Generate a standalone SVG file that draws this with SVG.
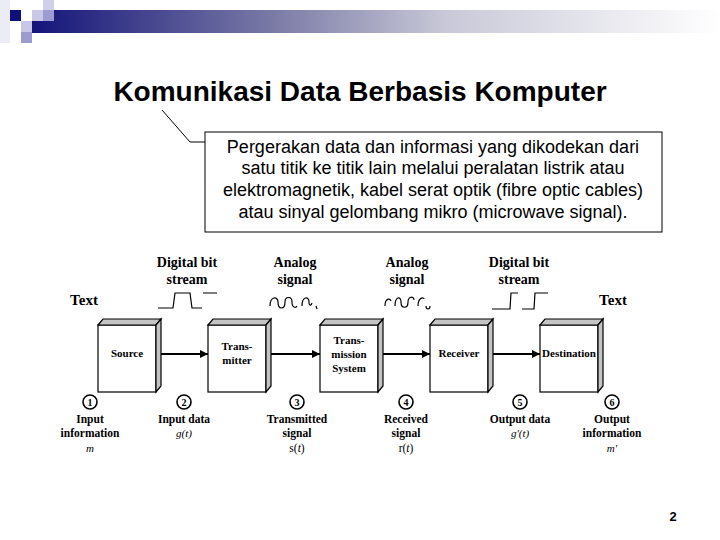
<svg xmlns="http://www.w3.org/2000/svg" width="720" height="540" viewBox="0 0 720 540">
<defs>
<linearGradient id="bar" x1="0" y1="0" x2="1" y2="0">
<stop offset="0" stop-color="#14147a"/>
<stop offset="0.35" stop-color="#7a7aa6"/>
<stop offset="0.6" stop-color="#c8c8d8"/>
<stop offset="1" stop-color="#ffffff"/>
</linearGradient>
<marker id="ah" viewBox="0 0 10 10" refX="10" refY="5" markerWidth="8" markerHeight="8" markerUnits="userSpaceOnUse" orient="auto">
<path d="M0,0 L10,5 L0,10 z" fill="#000"/>
</marker>
<g id="box3d">
<rect x="0" y="0" width="58" height="67" fill="#fff" stroke="#000" stroke-width="1.2"/>
<path d="M0,0 L5,-6 L63,-6 L58,0 z" fill="#c4c4c4" stroke="#000" stroke-width="1.2"/>
<path d="M58,0 L63,-6 L63,61 L58,67 z" fill="#c4c4c4" stroke="#000" stroke-width="1.2"/>
</g>
</defs>
<style>
.title{font-family:"Liberation Sans",Arial,sans-serif;font-weight:bold;font-size:28px;fill:#000}
.desc{font-family:"Liberation Sans",Arial,sans-serif;font-size:18px;fill:#000}
.lab{font-family:"Liberation Serif","Times New Roman",serif;font-weight:bold;font-size:14px;fill:#000}
.big{font-family:"Liberation Serif","Times New Roman",serif;font-weight:bold;font-size:15px;fill:#000}
.bx{font-family:"Liberation Serif","Times New Roman",serif;font-weight:bold;font-size:11px;fill:#000}
.sub{font-family:"Liberation Serif","Times New Roman",serif;font-weight:bold;font-size:11.5px;fill:#000}
.reg{font-family:"Liberation Serif","Times New Roman",serif;font-weight:normal;font-size:11.5px;fill:#000}
.it{font-family:"Liberation Serif","Times New Roman",serif;font-style:italic;font-size:11px;fill:#000}
.num{font-family:"Liberation Serif","Times New Roman",serif;font-weight:bold;font-size:10px;fill:#000}
.wave{fill:none;stroke:#000;stroke-width:1.2}
.circ{fill:#fff;stroke:#000;stroke-width:1.6}
</style>
<g id="header">
<rect x="0" y="0" width="10" height="43" fill="#ececf6"/>
<rect x="32" y="10" width="688" height="23" fill="url(#bar)"/>
<rect x="10" y="10" width="11" height="11" fill="#10107a"/>
<rect x="32" y="10" width="11" height="11" fill="#c8c8e6"/>
<rect x="43" y="10" width="11" height="11" fill="#9c9cd0"/>
<rect x="43" y="0" width="11" height="10" fill="#d0d0ea"/>
<rect x="21" y="21" width="11" height="11" fill="#c8c8e6"/>
<rect x="21" y="32" width="11" height="11" fill="#9c9cd0"/>
</g>
<g id="title"><text class="title" x="360" y="101" text-anchor="middle">Komunikasi Data Berbasis Komputer</text></g>
<g id="callout">
<path d="M162,110 L190,142 L205,142" fill="none" stroke="#000" stroke-width="1"/>
<rect x="205" y="132" width="457" height="100" fill="#fff" stroke="#000" stroke-width="1"/>
<text class="desc" x="433" y="153" text-anchor="middle">Pergerakan data dan informasi yang dikodekan dari</text>
<text class="desc" x="433" y="174" text-anchor="middle">satu titik ke titik lain melalui peralatan listrik atau</text>
<text class="desc" x="433" y="196" text-anchor="middle">elektromagnetik, kabel serat optik (fibre optic cables)</text>
<text class="desc" x="433" y="218" text-anchor="middle">atau sinyal gelombang mikro (microwave signal).</text>
</g>
<g id="signals">
<text class="big" x="84" y="305" text-anchor="middle">Text</text>
<text class="big" x="613" y="305" text-anchor="middle">Text</text>
<text class="lab" x="187" y="267" text-anchor="middle">Digital bit</text>
<text class="lab" x="187" y="284" text-anchor="middle">stream</text>
<text class="lab" x="295" y="267" text-anchor="middle">Analog</text>
<text class="lab" x="295" y="284" text-anchor="middle">signal</text>
<text class="lab" x="407" y="267" text-anchor="middle">Analog</text>
<text class="lab" x="407" y="284" text-anchor="middle">signal</text>
<text class="lab" x="519" y="267" text-anchor="middle">Digital bit</text>
<text class="lab" x="519" y="284" text-anchor="middle">stream</text>
<path class="wave" d="M158,308 H173 L175,293 H190 L192,308 H202 M203,293 H217"/>
<path class="wave" d="M492,309 H510 L511,293 H518 M522,309 H534 L535,293 H548"/>
<path class="wave" d="M270,306 C270,296 278,296 278,302 C278,310 285,310 285,302 C285,296 292,296 292,302 C292,308 296,308 297,306 M302,306 C302,296 309,296 309,302 C309,306 311,306 312,303 M316,306 L317,309"/>
<path class="wave" d="M385,306 C385,298 390,298 391,301 M395,306 C395,296 401,296 401,302 C401,309 408,309 408,302 C408,296 414,296 414,300 M418,306 C418,297 424,297 424,299 M426,306 C426,310 430,310 430,306"/>
</g>
<g id="connectors">
<line x1="161" y1="354" x2="208" y2="354" stroke="#000" stroke-width="2" marker-end="url(#ah)"/>
<line x1="271" y1="354" x2="320" y2="354" stroke="#000" stroke-width="2" marker-end="url(#ah)"/>
<line x1="383" y1="354" x2="430" y2="354" stroke="#000" stroke-width="2" marker-end="url(#ah)"/>
<line x1="493" y1="354" x2="540" y2="354" stroke="#000" stroke-width="2" marker-end="url(#ah)"/>
</g>
<g id="source"><use href="#box3d" x="98" y="325"/><text class="bx" x="127" y="357" text-anchor="middle">Source</text></g>
<g id="transmitter"><use href="#box3d" x="208" y="325"/><text class="bx" x="237" y="350" text-anchor="middle">Trans-</text><text class="bx" x="237" y="364" text-anchor="middle">mitter</text></g>
<g id="transmission"><use href="#box3d" x="320" y="325"/><text class="bx" x="349" y="344" text-anchor="middle">Trans-</text><text class="bx" x="349" y="358" text-anchor="middle">mission</text><text class="bx" x="349" y="372" text-anchor="middle">System</text></g>
<g id="receiver"><use href="#box3d" x="430" y="325"/><text class="bx" x="459" y="357" text-anchor="middle">Receiver</text></g>
<g id="destination"><use href="#box3d" x="540" y="325"/><text class="bx" x="569" y="357" text-anchor="middle">Destination</text></g>
<g id="p1"><circle class="circ" cx="90" cy="402" r="7"/><text class="num" x="90" y="406" text-anchor="middle">1</text>
<text class="sub" x="90" y="423" text-anchor="middle">Input</text><text class="sub" x="90" y="437" text-anchor="middle">information</text><text class="it" x="90" y="452" text-anchor="middle">m</text></g>
<g id="p2"><circle class="circ" cx="184" cy="402" r="7"/><text class="num" x="184" y="406" text-anchor="middle">2</text>
<text class="sub" x="184" y="423" text-anchor="middle">Input data</text><text class="it" x="184" y="437" text-anchor="middle">g(t)</text></g>
<g id="p3"><circle class="circ" cx="297" cy="402" r="7"/><text class="num" x="297" y="406" text-anchor="middle">3</text>
<text class="sub" x="297" y="423" text-anchor="middle">Transmitted</text><text class="sub" x="297" y="437" text-anchor="middle">signal</text><text class="reg" x="297" y="452" text-anchor="middle">s(<tspan font-style="italic">t</tspan>)</text></g>
<g id="p4"><circle class="circ" cx="406" cy="402" r="7"/><text class="num" x="406" y="406" text-anchor="middle">4</text>
<text class="sub" x="406" y="423" text-anchor="middle">Received</text><text class="sub" x="406" y="437" text-anchor="middle">signal</text><text class="reg" x="406" y="452" text-anchor="middle">r(<tspan font-style="italic">t</tspan>)</text></g>
<g id="p5"><circle class="circ" cx="520" cy="402" r="7"/><text class="num" x="520" y="406" text-anchor="middle">5</text>
<text class="sub" x="520" y="423" text-anchor="middle">Output data</text><text class="it" x="520" y="437" text-anchor="middle">g'(t)</text></g>
<g id="p6"><circle class="circ" cx="612" cy="402" r="7"/><text class="num" x="612" y="406" text-anchor="middle">6</text>
<text class="sub" x="612" y="423" text-anchor="middle">Output</text><text class="sub" x="612" y="437" text-anchor="middle">information</text><text class="it" x="612" y="452" text-anchor="middle">m'</text></g>
<g id="pagenum"><text x="673" y="521" text-anchor="middle" style="font-family:'Liberation Sans',Arial,sans-serif;font-weight:bold;font-size:13px">2</text></g>
</svg>
